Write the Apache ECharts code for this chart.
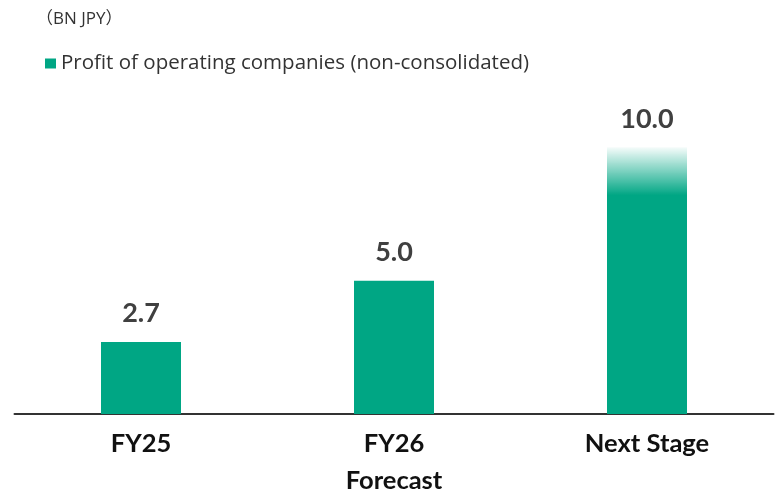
<!DOCTYPE html>
<html>
<head>
<meta charset="utf-8">
<script src="https://cdn.jsdelivr.net/npm/echarts@6/dist/echarts.min.js"></script>
<style>
  html, body { margin: 0; padding: 0; background: #fff; }
  #chart { width: 779px; height: 493px; }
</style>
</head>
<body>
<div id="chart"></div>
<script>
const categories = ['FY25', 'FY26\nForecast', 'Next Stage'];
const profitValues = [2.7, 5.0, 10.0];
const seriesName = 'Profit of operating companies (non-consolidated)';
const unitLabel = '（BN JPY）';

const green = '#00A684';
const font = 'Lato, "Noto Sans CJK JP", sans-serif';
const legendFont = '"Open Sans", sans-serif';

let chart = echarts.init(document.getElementById('chart'));

// last bar fades out toward the top
const barData = profitValues.map(function (v, i) {
    if (i === profitValues.length - 1) {
        return {
            value: v,
            itemStyle: {
                color: new echarts.graphic.LinearGradient(0, 0, 0, 1, [
                    {offset: 0, color: 'rgba(0,166,132,0.04)'},
                    {offset: 0.18, color: green},
                    {offset: 1, color: green}
                ])
            }
        };
    }
    return v;
});

const option = {
    animation: false,
    title: {
        text: unitLabel,
        left: 31,
        top: 6,
        textStyle: {
            fontFamily: '"Open Sans", "Noto Sans CJK JP", sans-serif',
            fontSize: 17,
            fontWeight: 'normal',
            color: '#333'
        }
    },
    legend: {
        left: 40,
        top: 48,
        icon: 'rect',
        itemWidth: 11,
        itemHeight: 10,
        textStyle: {
            fontFamily: legendFont,
            fontSize: 20.5,
            color: '#333'
        },
        data: [seriesName]
    },
    grid: {
        top: 94,
        left: 14.5,
        right: 5.5,
        bottom: 79,
        outerBoundsMode: 'none',
        containLabel: false
    },
    xAxis: {
        type: 'category',
        data: categories,
        axisTick: {show: false},
        axisLine: {lineStyle: {color: '#333', width: 2}},
        axisLabel: {
            margin: 11,
            fontFamily: font,
            fontSize: 25.5,
            fontWeight: 'bold',
            color: '#111',
            lineHeight: 37
        }
    },
    yAxis: {
        type: 'value',
        min: 0,
        max: 12,
        show: false
    },
    series: [
        {
            name: seriesName,
            type: 'bar',
            barWidth: 80,
            itemStyle: {color: green},
            label: {
                show: true,
                position: 'top',
                distance: 15,
                fontFamily: font,
                fontSize: 27,
                fontWeight: 'bold',
                color: '#404040',
                formatter: function (p) {
                    return p.value.toFixed(1);
                }
            },
            data: barData
        }
    ]
};

chart.setOption(option);

window.addEventListener('resize', function () {
    chart.resize();
});
</script>
</body>
</html>
